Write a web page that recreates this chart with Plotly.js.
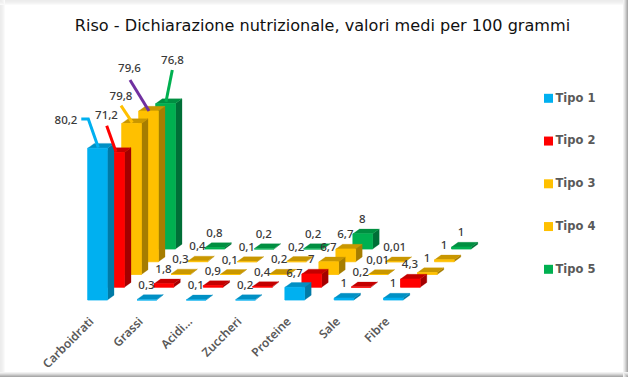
<!DOCTYPE html>
<html><head><meta charset="utf-8">
<script src="https://cdn.plot.ly/plotly-3.0.1.min.js"></script>
<style>html,body{margin:0;padding:0;background:#fff}</style></head>
<body><div id="chart" style="width:628px;height:377px"></div>
<script>
const categories = ['Carboidrati','Grassi','Acidi…','Zuccheri','Proteine','Sale','Fibre'];
const seriesNames = ['Tipo 1','Tipo 2','Tipo 3','Tipo 4','Tipo 5'];
const tipo1 = [80.2,0.3,0.1,0.2,6.7,1,1];
const tipo2 = [71.2,1.8,0.9,0.4,7,0.2,4.3];
const tipo3 = [79.8,0.3,0.1,0.2,6.7,0.01,1];
const tipo4 = [79.6,0.4,0.1,0.2,6.7,0.01,1];
const tipo5 = [76.8,0.8,0.2,0.2,8,null,1];
const seriesValues = [tipo1,tipo2,tipo3,tipo4,tipo5];

const frontColors = ['#00B0F0','#FF0000','#FFC000','#FFC000','#00B050'];
const topColors   = ['#0090C4','#C40000','#C99700','#C99700','#008F41'];
const sideColors  = ['#007AA6','#A30000','#A67D00','#A67D00','#006F37'];
const leaderColors = ['#00B0F0','#FF0000','#FFC000','#7030A0','#00B050'];

// oblique projection of the 3D chart
const origin = {x:87.7,y:300}, catStep = 49.3, serStepX = 17, serStepY = -12.75;
const pxPerUnit = 1.893, barW = 19.7, depX = 6.6, depY = -4.8;
const baseX = (c,s)=>origin.x + c*catStep + s*serStepX;
const baseY = s=>origin.y + s*serStepY;

// first-category labels sit away from the bars, joined by leader lines
const leaderLabels = [[66,121],[106.5,116],[121,97],[129.5,69.5],[172.5,61]];
const leaderPaths = [
  [[81.3,119],[88.3,119],[98.3,147.5]],
  [[106.7,125.7],[116,151.7]],
  [[121,105.7],[132.3,122.7]],
  [[130,80],[149,111]],
  [[172.3,70],[166,101.7]]
];
const legendX = 548.5, legendY = 98.3, legendStep = 42.75, legendTextGap = 7;

const fmt = v => String(v).replace('.',',');
const traces = [];
for (let s = seriesValues.length-1; s >= 0; s--) {
  const f={x:[],y:[]}, t={x:[],y:[]}, d={x:[],y:[]};
  const add=(o,xs,ys)=>{o.x.push(...xs,xs[0],null);o.y.push(...ys,ys[0],null);};
  for (let c = categories.length-1; c >= 0; c--) {
    const v = seriesValues[s][c];
    if (v === null) continue;
    const x0=baseX(c,s), x1=x0+barW, y0=baseY(s), y1=y0-v*pxPerUnit;
    add(f,[x0,x1,x1,x0],[y0,y0,y1,y1]);
    add(t,[x0,x1,x1+depX,x0+depX],[y1,y1,y1+depY,y1+depY]);
    add(d,[x1,x1+depX,x1+depX,x1],[y0,y0+depY,y1+depY,y1]);
  }
  const poly=(o,col,w)=>({type:'scatter',mode:'lines',x:o.x,y:o.y,fill:'toself',fillcolor:col,
    line:{color:col,width:w},hoverinfo:'skip',showlegend:false,connectgaps:false});
  traces.push(poly(d,sideColors[s],0.3),poly(t,topColors[s],0.3),poly(f,frontColors[s],0.8));
}
// leader lines
leaderPaths.forEach((p,s)=>traces.push({type:'scatter',mode:'lines',x:p.map(a=>a[0]),y:p.map(a=>a[1]),
  line:{color:leaderColors[s],width:3},hoverinfo:'skip',showlegend:false}));
// data labels
const lx=[],ly=[],lt=[];
seriesValues.forEach((vals,s)=>vals.forEach((v,c)=>{
  if (v===null) return;
  if (c===0){lx.push(leaderLabels[s][0]);ly.push(leaderLabels[s][1]);}
  else {lx.push(baseX(c,s)+9.5);ly.push(baseY(s)-v*pxPerUnit-13.5);}
  lt.push(fmt(v));
}));
traces.push({type:'scatter',mode:'text',x:lx,y:ly,text:lt,textposition:'middle center',
  textfont:{family:'"Noto Sans",sans-serif',size:11.5,color:'#3a3a3a',weight:500},hoverinfo:'skip',showlegend:false});
// legend entries
seriesNames.forEach((n,s)=>{
  traces.push({type:'scatter',mode:'markers',name:n,x:[legendX],y:[legendY+s*legendStep],showlegend:false,hoverinfo:'skip',
    marker:{symbol:'square',size:9,color:frontColors[s]}});
  traces.push({type:'scatter',mode:'text',x:[legendX+legendTextGap],y:[legendY+s*legendStep+0.5],text:[n],
    textposition:'middle right',showlegend:false,hoverinfo:'skip',
    textfont:{family:'"DejaVu Sans",sans-serif',size:11.5,color:'#595959',weight:'bold'}});
});

// picture frame
const frame=[];
const band=(x0,y0,x1,y1,c)=>frame.push({type:'rect',xref:'x',yref:'y',x0,y0,x1,y1,fillcolor:c,line:{width:0},layer:'below'});
['#ececec','#eeeeee','#f1f1f1','#f5f5f5','#fafafa'].forEach((c,i)=>{band(0,i,628,i+1,c);band(i,0,i+1,377,c);});
['#a9a9a9','#bdbdbd','#d2d2d2','#e4e4e4','#f2f2f2'].forEach((c,i)=>{band(0,376-i,628,377-i,c);band(627-i,0,628-i,377,c);});

Plotly.newPlot('chart',traces,{
  width:628,height:377,autosize:false,margin:{l:0,r:0,t:0,b:0},
  paper_bgcolor:'#ffffff',plot_bgcolor:'rgba(0,0,0,0)',
  title:{text:'Riso - Dichiarazione nutrizionale, valori medi per 100 grammi',
    font:{family:'"DejaVu Sans",sans-serif',size:16.1,color:'#111111'},x:322.5/628,xanchor:'center',y:1-25/377,yanchor:'middle'},
  xaxis:{range:[0,628],anchor:'free',position:(377-311)/377,showgrid:false,zeroline:false,showline:false,ticks:'',
    tickmode:'array',tickvals:categories.map((_,c)=>baseX(c,0)+2.5),ticktext:categories,tickangle:-45,
    tickfont:{family:'"Noto Sans",sans-serif',size:12,color:'#595959',weight:600},fixedrange:true},
  yaxis:{range:[377,0],visible:false,fixedrange:true},
  shapes:frame,showlegend:false
},{displayModeBar:false,staticPlot:true});
</script></body></html>
